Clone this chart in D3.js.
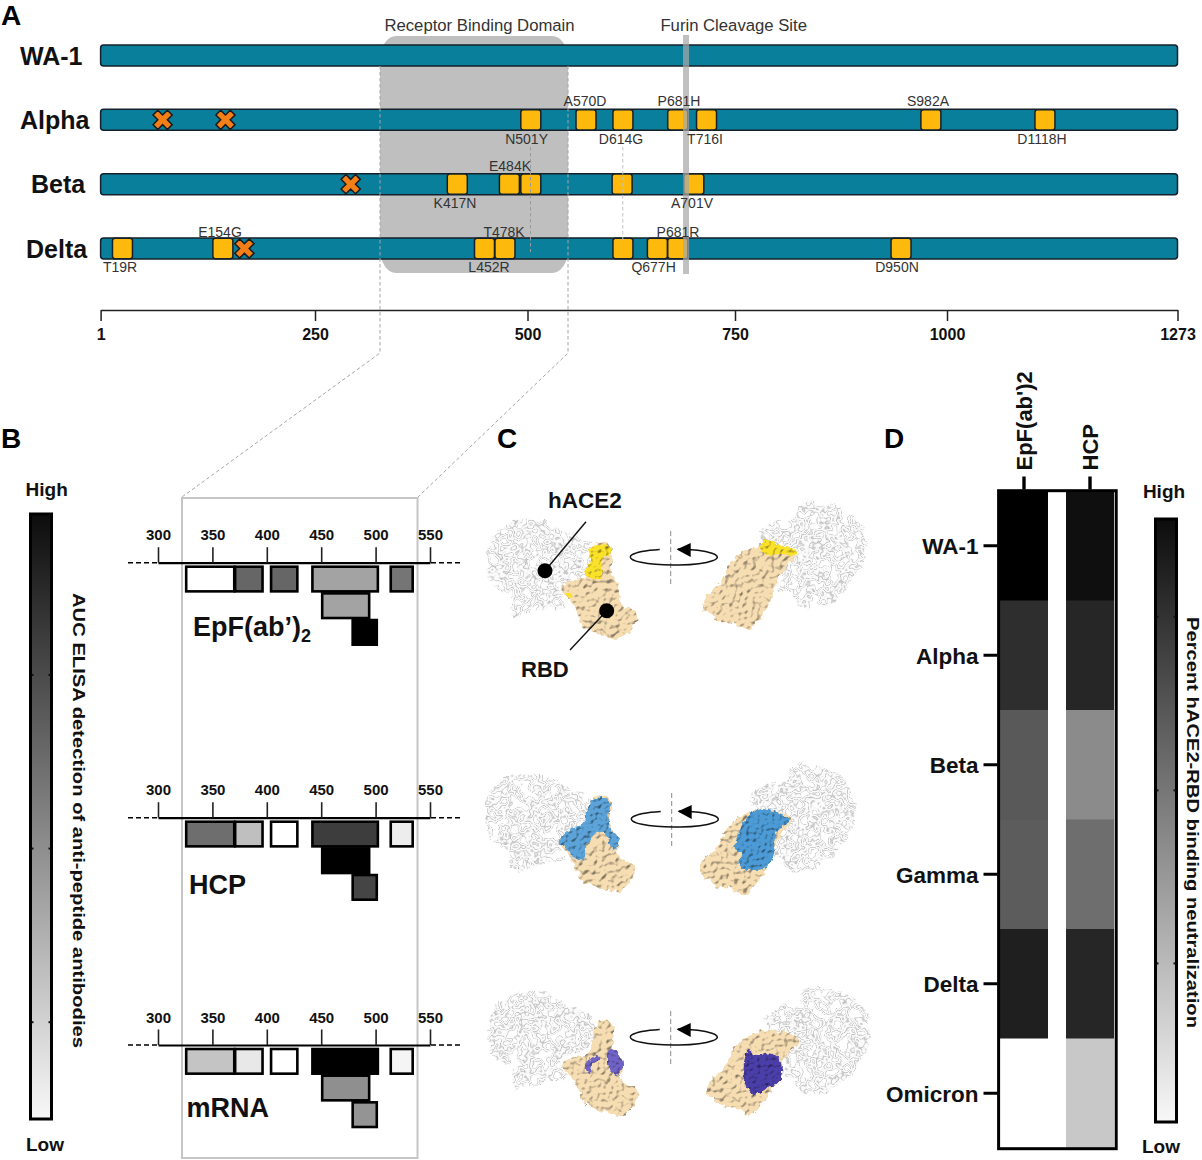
<!DOCTYPE html>
<html><head><meta charset="utf-8">
<script src="https://cdn.jsdelivr.net/npm/d3@7"></script>
<style>
html,body{margin:0;padding:0;background:#fff}
svg{display:block}
text{font-family:"Liberation Sans",Arial,sans-serif}
</style></head><body><div id="chart"></div>
<script>
// ---------- Panel A data ----------
const variants = ["WA-1","Alpha","Beta","Delta"];
const axisTicksA = [1,250,500,750,1000,1273];
const alphaMutations = ["N501Y","A570D","D614G","P681H","T716I","S982A","D1118H"];
const alphaPositions = [504,570.5,615,681,715.7,981,1116];
const betaMutations  = ["K417N","E484K","N501Y","D614G","A701V"];
const betaPositions  = [417.4,478.7,504,614,700.4];
const deltaMutations = ["T19R","E154G","L452R","T478K","D614G","Q677H","P681R","D950N"];
const deltaPositions = [26.4,143,449.4,473.5,615,656.5,681,945.8];
const alphaDeletions = [73,146];
const betaDeletions  = [292];
const deltaDeletions = [168];
const rbdRange = [326.5,549];
const furinSite = 691;

// ---------- Panel B data ----------
const peptideStart = [325,370,403,441,513,450,478];
const peptideEnd   = [371,397,429,503,535,495,502];
const peptideLane  = [0,0,0,0,0,1,2];
const epfSignal  = [0,0.60,0.60,0.36,0.54,0.36,1];
const hcpSignal  = [0.57,0.25,0,0.76,0.07,1,0.73];
const mrnaSignal = [0.23,0.09,0,1,0.04,0.44,0.42];
const ticksB = [300,350,400,450,500,550];

// ---------- Panel D data ----------
const heatRows = ["WA-1","Alpha","Beta","Gamma","Delta","Omicron"];
const heatCols = ["EpF(ab')2","HCP"];
const heatEpf = [100,82,65,64,88,0];
const heatHcp = [94,85,45.5,57,85,21.5];

const W=1202,H=1160;
const svg=d3.select("#chart").append("svg").attr("width",W).attr("height",H).attr("viewBox",`0 0 ${W} ${H}`);
const defs=svg.append("defs");

function gradient(id){
  const g=defs.append("linearGradient").attr("id",id).attr("x1",0).attr("x2",0).attr("y1",0).attr("y2",1);
  g.append("stop").attr("offset","0%").attr("stop-color","#0c0c0c");
  g.append("stop").attr("offset","100%").attr("stop-color","#f8f8f8");
}
gradient("greyBar");

// surface filters for the structure illustrations
function surfaceFilter(id,seed,freq,disp,surf){
  const f=defs.append("filter").attr("id",id).attr("x","-15%").attr("y","-15%").attr("width","130%").attr("height","130%").attr("color-interpolation-filters","sRGB");
  f.append("feTurbulence").attr("type","fractalNoise").attr("baseFrequency",freq).attr("numOctaves",1).attr("seed",seed).attr("result","n");
  f.append("feDisplacementMap").attr("in","SourceGraphic").attr("in2","n").attr("scale",disp).attr("xChannelSelector","R").attr("yChannelSelector","G").attr("result","d");
  const l=f.append("feDiffuseLighting").attr("in","n").attr("surfaceScale",surf).attr("diffuseConstant",1.22).attr("lighting-color","#fff").attr("result","l0");
  l.append("feDistantLight").attr("azimuth",235).attr("elevation",60);
  f.append("feGaussianBlur").attr("in","l0").attr("stdDeviation",0.4).attr("result","l");
  f.append("feComposite").attr("in","d").attr("in2","l").attr("operator","arithmetic").attr("k1",1).attr("k2",0).attr("k3",0).attr("k4",0).attr("result","m");
  f.append("feComposite").attr("in","m").attr("in2","d").attr("operator","in");
}
surfaceFilter("surfTan",4,0.22,8,2.4);
surfaceFilter("surfCol",9,0.27,6,2.0);
(function(){
  const f=defs.append("filter").attr("id","web").attr("x","-10%").attr("y","-10%").attr("width","120%").attr("height","120%").attr("color-interpolation-filters","sRGB");
  f.append("feTurbulence").attr("type","fractalNoise").attr("baseFrequency",0.1).attr("numOctaves",2).attr("seed",7).attr("result","n");
  f.append("feDisplacementMap").attr("in","SourceGraphic").attr("in2","n").attr("scale",10).attr("xChannelSelector","R").attr("yChannelSelector","G").attr("result","d");
  f.append("feColorMatrix").attr("in","n").attr("type","matrix").attr("values","1 0 0 0 0 1 0 0 0 0 1 0 0 0 0 0 0 0 0 1").attr("result","g");
  const c=f.append("feComponentTransfer").attr("in","g").attr("result","t0");
  const tv="1 1 1 1 1 1 1 1 .97 .8 .97 1 .95 .76 .95 1 .97 .8 .97 1 1 1 1 1 1 1 1 1 1 1";
  ["feFuncR","feFuncG","feFuncB"].forEach(k=>c.append(k).attr("type","table").attr("tableValues",tv));
  f.append("feGaussianBlur").attr("in","t0").attr("stdDeviation",0.3).attr("result","t");
  f.append("feComposite").attr("in","t").attr("in2","d").attr("operator","in");
})();

// ---------- Panel A ----------
const xA=d3.scaleLinear().domain([1,250,500,750,1000,1273]).range([100.6,315,527.5,735,947,1177.5]);
const yA=d3.scalePoint().domain(variants).range([55.5,248.5]);
const barH=21, boxW=20;

const gA=svg.append("g");
gA.append("rect").attr("x",xA(rbdRange[0])).attr("y",36).attr("width",xA(rbdRange[1])-xA(rbdRange[0])).attr("height",237).attr("rx",16).attr("ry",24).attr("fill","#bfbfbf");

gA.selectAll("rect.bar").data(variants).join("rect").attr("class","bar")
  .attr("x",xA(1)).attr("y",d=>yA(d)-barH/2).attr("width",xA(1273)-xA(1)).attr("height",barH).attr("rx",3)
  .attr("fill","#0a7f9b").attr("stroke","#16202a").attr("stroke-width",1.5);

const nameX={ "WA-1":20,"Alpha":20,"Beta":31,"Delta":26 };
gA.selectAll("text.vn").data(variants).join("text").attr("class","vn")
  .attr("x",d=>nameX[d]).attr("y",d=>yA(d)+9).attr("font-size",25).attr("font-weight","bold").attr("fill","#111").text(d=>d);

const mutSets=[["Alpha",alphaMutations,alphaPositions],["Beta",betaMutations,betaPositions],["Delta",deltaMutations,deltaPositions]];
const boxes=mutSets.flatMap(([v,ms,ps])=>ms.map((m,i)=>({v,m,p:ps[i]})));

// connector dashes
const dashGrey="#a6a6a6";
function dash(g,pts,col){g.append("path").attr("d",d3.line()(pts)).attr("fill","none").attr("stroke",col||dashGrey).attr("stroke-width",1).attr("stroke-dasharray","3.5,2.5");}

gA.selectAll("rect.mut").data(boxes).join("rect").attr("class","mut")
  .attr("x",d=>xA(d.p)-boxW/2).attr("y",d=>yA(d.v)-barH/2+0.3).attr("width",boxW).attr("height",barH-0.6).attr("rx",2.5)
  .attr("fill","#fdba0c").attr("stroke","#16202a").attr("stroke-width",1.5);

const dels=[["Alpha",alphaDeletions],["Beta",betaDeletions],["Delta",deltaDeletions]].flatMap(([v,ps])=>ps.map(p=>({v,p})));
gA.selectAll("path.del").data(dels).join("path").attr("class","del")
  .attr("d",d3.symbol(d3.symbolCross,230))
  .attr("transform",d=>`translate(${xA(d.p)},${yA(d.v)}) rotate(45)`)
  .attr("fill","#f57f17").attr("stroke","#1a1a1a").attr("stroke-width",1.5);

dash(gA,[[380,66],[380,353],[182,497]]);
dash(gA,[[568,66],[568,353],[418,497]]);
dash(gA,[[530.5,147],[530.5,252]],"#9a9a9a");
dash(gA,[[622.8,147],[622.8,240]],"#c4c4c4");

gA.append("rect").attr("x",xA(furinSite)-3).attr("y",35).attr("width",6).attr("height",239).attr("fill","#a8a8a8").attr("fill-opacity",0.72);

// mutation labels
const labelAt={
 "Alpha|A570D":[585,101],"Alpha|P681H":[679,101],"Alpha|S982A":[928,101],
 "Alpha|N501Y":[526.6,139],"Alpha|D614G":[621,139],"Alpha|T716I":[705,139],"Alpha|D1118H":[1042,139],
 "Beta|E484K":[510,166],"Beta|K417N":[455,203],"Beta|A701V":[692,203],
 "Delta|E154G":[220,232],"Delta|T478K":[504,232],"Delta|P681R":[678,232],
 "Delta|T19R":[120,267],"Delta|L452R":[489,267],"Delta|Q677H":[653.6,267],"Delta|D950N":[897,267]
};
gA.selectAll("text.ml").data(boxes.filter(d=>labelAt[d.v+"|"+d.m])).join("text").attr("class","ml")
  .attr("x",d=>labelAt[d.v+"|"+d.m][0]).attr("y",d=>labelAt[d.v+"|"+d.m][1]+5)
  .attr("text-anchor","middle").attr("font-size",14).attr("fill","#333").text(d=>d.m);

gA.append("text").attr("x",479.5).attr("y",30.5).attr("text-anchor","middle").attr("font-size",16.7).attr("fill","#333").text("Receptor Binding Domain");
gA.append("text").attr("x",733.7).attr("y",30.5).attr("text-anchor","middle").attr("font-size",16.7).attr("fill","#333").text("Furin Cleavage Site");

const axA=svg.append("g").attr("transform","translate(0,310)")
  .call(d3.axisBottom(xA).tickValues(axisTicksA).tickFormat(d3.format("d")).tickSize(11).tickSizeOuter(0).tickPadding(7.6));
axA.selectAll(".domain,line").attr("stroke","#222").attr("stroke-width",1.5);
axA.selectAll("text").attr("font-size",16).attr("font-weight","bold").attr("fill","#111");
axA.attr("font-family",null);

// panel letters
[["A",1,25],["B",1,448],["C",497,448],["D",884,448]].forEach(([t,x,y])=>{
  svg.append("text").attr("x",x).attr("y",y).attr("font-size",28).attr("font-weight","bold").attr("fill","#000").text(t);
});

// ---------- Panel B ----------
svg.append("rect").attr("x",182).attr("y",498).attr("width",235.5).attr("height",660).attr("fill","none").attr("stroke","#c6c6c6").attr("stroke-width",2);
const xB=d3.scaleLinear().domain([300,550]).range([158,430]);
const grey=d3.scaleLinear().domain([0,1]).range(["#ffffff","#000000"]);
const laneB=d3.scaleBand().domain([0,1,2]).range([3,83]);
const panelsB=[
 {name:"EpF",y:562.7,sig:epfSignal},
 {name:"HCP",y:817.7,sig:hcpSignal},
 {name:"mRNA",y:1045,sig:mrnaSignal}
];
panelsB.forEach(p=>{
  const g=svg.append("g").attr("transform",`translate(0,${p.y})`);
  const idx=d3.range(peptideStart.length);
  g.selectAll("rect").data(idx).join("rect")
    .attr("x",i=>xB(peptideStart[i])+1).attr("y",i=>laneB(peptideLane[i])+1)
    .attr("width",i=>xB(peptideEnd[i])-xB(peptideStart[i])-2).attr("height",laneB.bandwidth()-2)
    .attr("fill",i=>grey(p.sig[i])).attr("stroke","#000").attr("stroke-width",2.6);
  const ax=g.append("g").call(d3.axisTop(xB).tickValues(ticksB).tickSize(15.5).tickSizeOuter(0).tickPadding(7));
  ax.attr("font-family",null);
  ax.selectAll(".domain").attr("stroke","#000").attr("stroke-width",2.2);
  ax.selectAll("line").attr("stroke","#222").attr("stroke-width",1.6);
  ax.selectAll("text").attr("font-size",15).attr("font-weight","bold").attr("fill","#111");
  g.append("line").attr("x1",128).attr("x2",158).attr("stroke","#000").attr("stroke-width",1.6).attr("stroke-dasharray","5,3");
  g.append("line").attr("x1",431).attr("x2",462).attr("stroke","#000").attr("stroke-width",1.6).attr("stroke-dasharray","5,3");
});
const epfT=svg.append("text").attr("x",193).attr("y",636).attr("font-size",27).attr("font-weight","bold").attr("fill","#111");
epfT.append("tspan").text("EpF(ab’)");
epfT.append("tspan").attr("font-size",18).attr("dy",6).text("2");
svg.append("text").attr("x",189).attr("y",894).attr("font-size",27).attr("font-weight","bold").attr("fill","#111").text("HCP");
svg.append("text").attr("x",186.5).attr("y",1117).attr("font-size",27).attr("font-weight","bold").attr("fill","#111").text("mRNA");

// ---------- colour bars ----------
function colorBar(x,y0,y1,ticks,highX,highY,lowX,lowY,label,labX,labY0,labLen){
  const w=21;
  svg.append("rect").attr("x",x).attr("y",y0).attr("width",w).attr("height",y1-y0).attr("fill","url(#greyBar)").attr("stroke","#000").attr("stroke-width",3);
  const s=d3.scaleLinear().domain([0,1]).range([y1,y0]);
  svg.selectAll(null).data(ticks.flatMap(t=>[[t,x+1],[t,x+w-3]])).join("rect")
    .attr("x",d=>d[1]).attr("y",d=>s(d[0])-1).attr("width",2).attr("height",2).attr("fill","#111");
  svg.append("text").attr("x",highX).attr("y",highY).attr("text-anchor","middle").attr("font-size",19).attr("font-weight","bold").attr("fill","#111").text("High");
  svg.append("text").attr("x",lowX).attr("y",lowY).attr("text-anchor","middle").attr("font-size",19).attr("font-weight","bold").attr("fill","#111").text("Low");
  svg.append("text").attr("transform",`translate(${labX},${labY0}) rotate(90)`).attr("font-size",16.5).attr("font-weight","bold").attr("fill","#111")
    .attr("textLength",labLen).attr("lengthAdjust","spacingAndGlyphs").text(label);
}
colorBar(30.5,514,1119,[0.16,0.447,0.734],46.7,496,45,1151,"AUC ELISA detection of anti-peptide antibodies",73,593,455);
colorBar(1155.5,519,1122,[0.263,0.55,0.838],1164,498,1161,1153,"Percent hACE2-RBD binding neutralization",1187,617,411);

// ---------- Panel D ----------
const xD=d3.scaleBand().domain(heatCols).range([1000,1114]).paddingInner(0.273);
const yD=d3.scaleBand().domain(heatRows).range([491,1148]);
const heat=d3.scaleLinear().domain([0,100]).range(["#ffffff","#000000"]);
const cells=heatRows.flatMap((r,i)=>[{r,c:heatCols[0],v:heatEpf[i]},{r,c:heatCols[1],v:heatHcp[i]}]);
svg.selectAll("rect.cell").data(cells).join("rect").attr("class","cell")
  .attr("x",d=>xD(d.c)).attr("y",d=>yD(d.r)).attr("width",xD.bandwidth()).attr("height",yD.bandwidth()+0.5)
  .attr("fill",d=>heat(d.v));
svg.append("rect").attr("x",998.6).attr("y",490.7).attr("width",117.6).attr("height",658).attr("fill","none").attr("stroke","#000").attr("stroke-width",3);
const axL=svg.append("g").attr("transform","translate(997.5,0)").call(d3.axisLeft(yD).tickSize(14).tickSizeOuter(0).tickPadding(5));
axL.attr("font-family",null);
axL.select(".domain").remove();
axL.selectAll("line").attr("stroke","#000").attr("stroke-width",3);
axL.selectAll("text").attr("font-size",22.5).attr("font-weight","bold").attr("fill","#111").attr("dy","0.38em");
const axT=svg.append("g").attr("transform","translate(0,489.5)").call(d3.axisTop(xD).tickSize(13).tickSizeOuter(0));
axT.attr("font-family",null);
axT.select(".domain").remove();
axT.selectAll("line").attr("stroke","#000").attr("stroke-width",3.4);
axT.selectAll("text").attr("font-size",22).attr("font-weight","bold").attr("fill","#111")
   .attr("text-anchor","start").attr("transform","rotate(-90)").attr("x",19).attr("y",0).attr("dy","0.36em");

// ---------- Panel C (structure illustrations, outlines in zoom-derived local coords) ----------
const blob=d3.line().curve(d3.curveCatmullRomClosed.alpha(0.5));
const ace2Left=[[20,235],[40,165],[110,120],[200,125],[260,160],[330,190],[345,240],[320,290],[240,320],[255,380],[200,385],[130,410],[95,400],[95,350],[40,320]];
const ace2Right=[[840,160],[880,125],[945,115],[960,70],[1040,70],[1120,110],[1155,170],[1150,240],[1110,310],[1060,360],[1010,385],[950,375],[930,340],[895,330],[905,280],[860,200]];
const rbdLeft=[[240,325],[290,295],[320,290],[350,190],[395,200],[395,270],[420,330],[420,370],[470,400],[460,440],[420,475],[370,465],[310,440],[290,400],[265,355]];
const rbdRight=[[670,390],[680,345],[720,310],[750,250],[790,215],[850,195],[945,220],[915,265],[895,300],[880,345],[850,400],[800,450],[760,430],[720,425],[690,400]];
const yellowL=[[330,205],[385,195],[395,215],[365,240],[365,295],[315,285],[330,240]];
const yellowL2=[[258,340],[275,342],[276,352],[262,350]];
const yellowR=[[845,215],[850,180],[900,195],[950,212],[945,225],[900,222],[870,225]];
const blueL=[[235,250],[260,215],[310,190],[330,130],[365,110],[390,125],[385,170],[395,210],[420,240],[400,270],[370,215],[345,220],[320,260],[310,300],[280,295],[265,270]];
const blueR=[[765,270],[795,180],[830,150],[870,150],[930,180],[890,215],[880,290],[860,320],[800,330],[775,310],[785,280]];
const purpleL1=[[320,905],[355,885],[360,900],[335,915],[330,945],[318,925]];
const purpleL2=[[385,870],[400,865],[430,915],[410,945],[390,930],[380,895]];
const purpleR=[[790,935],[805,870],[830,885],[870,880],[900,900],[900,965],[860,985],[820,1005],[800,980]];

function shape(parent,pts,ox,oy,fill,filter){
  parent.append("path").attr("d",blob(pts.map(([x,y])=>[ox+x/3,oy+y/3]))).attr("fill",fill).attr("filter",filter);
}
const gC=svg.append("g");
const tan="#f6ddb2";
function structures(r){
  shape(gC,ace2Left,480+r.dxAL,480+r.dyAL,"#fff","url(#web)");
  shape(gC,ace2Right,480+r.dxAR,480+r.dyAR,"#fff","url(#web)");
  shape(gC,rbdLeft,480+r.dxRL,480+r.dyRL,tan,"url(#surfTan)");
  shape(gC,rbdRight,480+r.dxRR,480+r.dyRR,tan,"url(#surfTan)");
}
structures({dxAL:0,dyAL:0,dxAR:0,dyAR:0,dxRL:0,dyRL:0,dxRR:0,dyRR:0});
shape(gC,yellowL,480,480,"#fbe22a","url(#surfCol)");
shape(gC,yellowL2,480,480,"#fbe22a",null);
shape(gC,yellowR,480,480,"#fbe22a","url(#surfCol)");
structures({dxAL:-1.7,dyAL:254,dxAR:-10,dyAR:263,dxRL:-1.7,dyRL:253,dxRR:-3,dyRR:265});
shape(gC,blueL,480,760,"#5ba3d8","url(#surfCol)");
shape(gC,blueR,480,760,"#4c9bd6","url(#surfCol)");
structures({dxAL:1.5,dyAL:472,dxAR:4,dyAR:486,dxRL:1.7,dyRL:477,dxRR:3.7,dyRR:485});
shape(gC,purpleL1,480,760,"#6f63c6","url(#surfCol)");
shape(gC,purpleL2,480,760,"#6f63c6","url(#surfCol)");
shape(gC,purpleR,480,760,"#4a3ea8","url(#surfCol)");

// rotation glyphs
[[671.7,557],[672.7,819],[671.7,1037]].forEach(([cx,cy])=>{
  const g=gC.append("g").attr("transform",`translate(${cx},${cy})`);
  g.append("line").attr("x1",-1).attr("x2",-1).attr("y1",-26).attr("y2",28).attr("stroke","#8a8a8a").attr("stroke-width",1).attr("stroke-dasharray","5,3");
  g.append("path").attr("d","M-12,-7.5 A43.5,8 0 1 0 6,-7.9").attr("fill","none").attr("stroke","#111").attr("stroke-width",1.5);
  g.append("path").attr("d","M5,-7.5 L19,-14 L19,0 Z").attr("fill","#000");
});
gC.append("path").attr("d",d3.line()([[586,521.7],[545,570.7]])).attr("stroke","#111").attr("stroke-width",1.4).attr("fill","none");
gC.append("path").attr("d",d3.line()([[606.7,610.7],[570,650]])).attr("stroke","#111").attr("stroke-width",1.4).attr("fill","none");
gC.append("circle").attr("cx",545).attr("cy",570.7).attr("r",7.5).attr("fill","#000");
gC.append("circle").attr("cx",606.7).attr("cy",610.7).attr("r",7.5).attr("fill","#000");
gC.append("text").attr("x",548).attr("y",508).attr("font-size",22.5).attr("font-weight","bold").attr("fill","#111").text("hACE2");
gC.append("text").attr("x",521).attr("y",676.5).attr("font-size",22).attr("font-weight","bold").attr("fill","#111").text("RBD");
</script></body></html>
